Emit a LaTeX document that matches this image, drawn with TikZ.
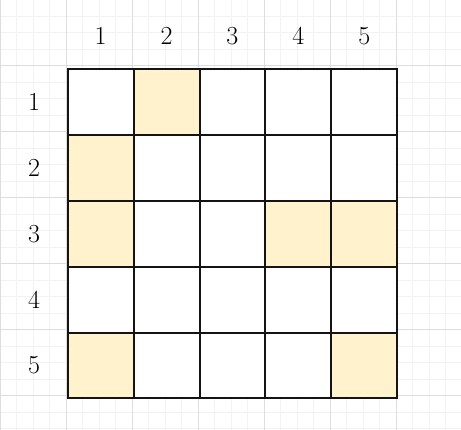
\documentclass[tikz,border=0pt]{standalone}
\definecolor{minorgrid}{HTML}{F2F2F2}
\definecolor{majorgrid}{HTML}{DDDDDD}
\definecolor{cellfill}{HTML}{FFF2CC}
\definecolor{cellline}{HTML}{141414}
\begin{document}
\begin{tikzpicture}[x=1pt,y=-1pt,
  lbl/.style={font=\fontsize{26}{30}\selectfont, inner sep=0pt},
  cellbox/.style={draw=cellline, line width=2pt, minimum size=65.9pt, inner sep=0pt, outer sep=0pt, fill=white},
  hl/.style={cellbox, fill=cellfill}]
\useasboundingbox (0,0) rectangle (461,430);
\fill[white] (0,0) rectangle (461,430);
% minor grid
\foreach \i in {0,...,28} {
  \draw[minorgrid, line width=1pt] (\i*16.5,0) -- (\i*16.5,430);
}
\foreach \i in {0,...,26} {
  \draw[minorgrid, line width=1pt] (0,\i*16.5) -- (461,\i*16.5);
}
% major grid
\foreach \i in {0,...,6} {
  \draw[majorgrid, line width=1pt] (\i*66,0) -- (\i*66,430);
  \draw[majorgrid, line width=1pt] (0,\i*66) -- (461,\i*66);
}
% cells
\foreach \r in {1,...,5} {
  \foreach \c in {1,...,5} {
    \node[cellbox] (c\r\c) at ({67.7+65.9*(\c-0.5)},{69+65.9*(\r-0.5)}) {};
  }
}
\foreach \r/\c in {1/2,2/1,3/1,3/4,3/5,5/1,5/5} {
  \node[hl] at (c\r\c) {};
}
% labels
\foreach \c in {1,...,5} {
  \node[lbl] (col\c) at ({67.7+65.9*(\c-0.5)},36) {\c};
}
\foreach \r in {1,...,5} {
  \node[lbl] (row\r) at (34,{69+65.9*(\r-0.5)}) {\r};
}
\end{tikzpicture}
\end{document}
